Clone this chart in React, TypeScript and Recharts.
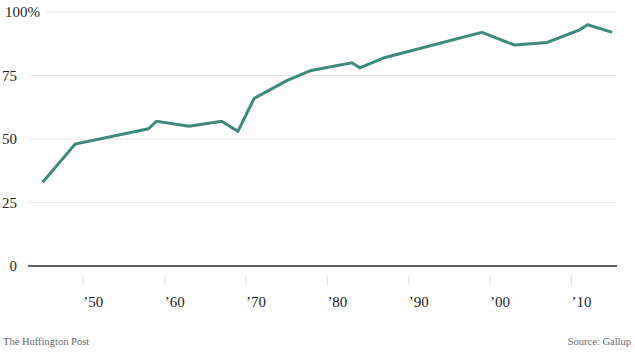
import React from "react";
import { LineChart, Line, XAxis, YAxis, CartesianGrid, ReferenceLine } from "recharts";

const years = [1945, 1949, 1958, 1959, 1963, 1967, 1969, 1971, 1975, 1978, 1983, 1984, 1987, 1999, 2003, 2007, 2011, 2012, 2015];
const values = [33, 48, 54, 57, 55, 57, 53, 66, 73, 77, 80, 78, 82, 92, 87, 88, 93, 95, 92];
const xTicks = [1950, 1960, 1970, 1980, 1990, 2000, 2010];
const xTickLabels = ["\u201950", "\u201960", "\u201970", "\u201980", "\u201990", "\u201900", "\u201910"];
const yTicks = [0, 25, 50, 75, 100];

const data = years.map((y, i) => ({ year: y, value: values[i] }));

const FONT = "'Liberation Serif', 'Times New Roman', serif";

const YTick = (props: any) => {
  const { x, y, payload } = props;
  const v = payload.value;
  if (v === 100) {
    return (
      <g>
        <rect x={x - 26} y={y - 8} width={43} height={16} fill="#fff" />
        <text x={x - 23} y={y + 5} fontSize={15} fontFamily={FONT} fill="#222" textAnchor="start">100%</text>
      </g>
    );
  }
  return (
    <text x={x - 11} y={y + 5} fontSize={15} fontFamily={FONT} fill="#222" textAnchor="end">{v}</text>
  );
};

const XTick = (props: any) => {
  const { x, y, payload } = props;
  const idx = xTicks.indexOf(payload.value);
  return (
    <g>
      <line x1={x} x2={x} y1={y + 10} y2={y + 19} stroke="#ddd" strokeWidth={1} />
      <text x={x} y={y + 41} fontSize={15} fontFamily={FONT} fill="#222" textAnchor="start">{xTickLabels[idx]}</text>
    </g>
  );
};

export default function App() {
  return (
    <div style={{ position: "absolute", left: 0, top: 0, width: 635, height: 353, background: "#fff" }}>
      <LineChart width={635} height={353} data={data} margin={{ top: 12, right: 18, bottom: 0, left: 0 }}>
        <CartesianGrid vertical={false} stroke="#e8e8e8" strokeWidth={1} />
        <XAxis
          dataKey="year"
          type="number"
          domain={[1943.2, 2015.6]}
          ticks={xTicks}
          axisLine={false}
          tickLine={false}
          tickSize={0}
          tickMargin={0}
          tick={<XTick />}
          height={87}
          interval={0}
        />
        <YAxis
          type="number"
          domain={[0, 100]}
          ticks={yTicks}
          axisLine={false}
          tickLine={false}
          tickSize={0}
          tickMargin={0}
          width={28}
          tick={<YTick />}
          interval={0}
        />
        <ReferenceLine y={0} stroke="#333" strokeWidth={1.5} />
        <Line
          type="linear"
          dataKey="value"
          stroke="#3b8a7b"
          strokeWidth={3}
          dot={false}
          isAnimationActive={false}
        />
      </LineChart>
      <div style={{ position: "absolute", left: 3, top: 336, fontSize: 10.5, fontFamily: FONT, color: "#6a6a6a" }}>The Huffington Post</div>
      <div style={{ position: "absolute", right: 4, top: 336, fontSize: 10.5, fontFamily: FONT, color: "#6a6a6a" }}>Source: Gallup</div>
    </div>
  );
}
